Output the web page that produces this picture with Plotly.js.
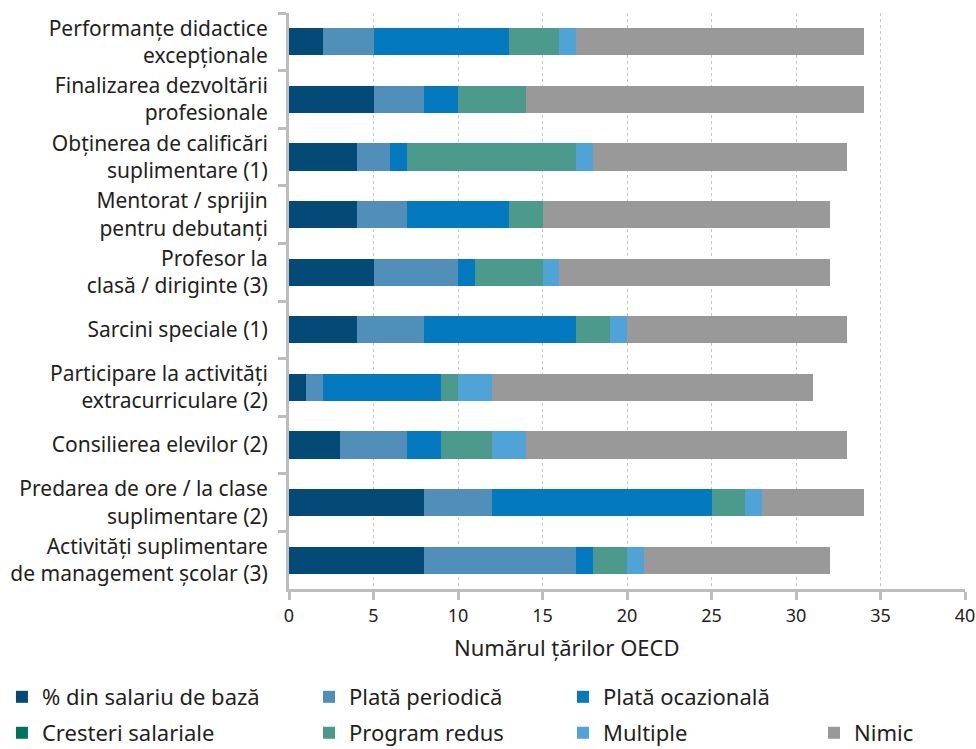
<!DOCTYPE html>
<html>
<head>
<meta charset="utf-8">
<script src="https://cdn.plot.ly/plotly-3.0.1.min.js"></script>
<style>html,body{margin:0;padding:0;background:#fff;}#chart{width:976px;height:749px;}</style>
</head>
<body>
<div id="chart"></div>
<script>
const categories = [
  "Performanțe didactice<br>excepționale",
  "Finalizarea dezvoltării<br>profesionale",
  "Obținerea de calificări<br>suplimentare (1)",
  "Mentorat / sprijin<br>pentru debutanți",
  "Profesor la<br>clasă / diriginte (3)",
  "Sarcini speciale (1)",
  "Participare la activități<br>extracurriculare (2)",
  "Consilierea elevilor (2)",
  "Predarea de ore / la clase<br>suplimentare (2)",
  "Activități suplimentare<br>de management școlar (3)"
];
const seriesNames = ["% din salariu de bază", "Plată periodică", "Plată ocazională", "Cresteri salariale", "Program redus", "Multiple", "Nimic"];
const salariuBaza   = [2, 5, 4, 4, 5, 4, 1, 3, 8, 8];
const plataPeriodica = [3, 3, 2, 3, 5, 4, 1, 4, 4, 9];
const plataOcazionala = [8, 2, 1, 6, 1, 9, 7, 2, 13, 1];
const cresteriSalariale = [0, 0, 0, 0, 0, 0, 0, 0, 0, 0];
const programRedus  = [3, 4, 10, 2, 4, 2, 1, 3, 2, 2];
const multiple      = [1, 0, 1, 0, 1, 1, 2, 2, 1, 1];
const nimic         = [17, 20, 15, 17, 16, 13, 19, 19, 6, 11];
const xTickValues = [0, 5, 10, 15, 20, 25, 30, 35, 40];

const seriesValues = [salariuBaza, plataPeriodica, plataOcazionala, cresteriSalariale, programRedus, multiple, nimic];
const colors = ["#034B76", "#4F8FBA", "#037ABF", "#00735F", "#4C9A8C", "#4FA3D6", "#999999"];
const legendIds = ["legend", "legend2", "legend3", "legend4", "legend5", "legend6", "legend7"];
// legend item positions (container coords)
const legendPos = [
  [0.002, 0.0694], [0.3166, 0.0694], [0.5768, 0.0694],
  [0.002, 0.0214], [0.3166, 0.0214], [0.5768, 0.0214], [0.834, 0.0214]
];

const FONT = "Noto Sans, Open Sans, sans-serif";
const TXT = "#231F20";

const traces = seriesValues.map((vals, i) => ({
  type: "bar",
  orientation: "h",
  name: seriesNames[i],
  x: vals,
  y: categories,
  marker: {color: colors[i], line: {width: 0}},
  legend: legendIds[i],
  showlegend: true,
  hoverinfo: "skip"
}));

const layout = {
  width: 976,
  height: 749,
  margin: {l: 289, r: 11, t: 13, b: 160},
  paper_bgcolor: "#fff",
  plot_bgcolor: "#fff",
  showlegend: true,
  barmode: "stack",
  bargap: 0.53,
  font: {family: FONT, color: TXT, size: 18},
  xaxis: {
    range: [0, 40],
    tickvals: xTickValues,
    ticktext: xTickValues.map(String),
    showgrid: true,
    gridcolor: "#c8c8c8",
    griddash: "dot",
    gridwidth: 1,
    zeroline: false,
    showline: true,
    linecolor: "#bdbdbd",
    linewidth: 3,
    ticks: "outside",
    ticklen: 8,
    tickwidth: 3,
    tickcolor: "#bdbdbd",
    tickfont: {size: 18, color: TXT, family: FONT},
    automargin: false,
    fixedrange: true
  },
  yaxis: {
    autorange: "reversed",
    showgrid: false,
    zeroline: false,
    showline: true,
    linecolor: "#bdbdbd",
    linewidth: 3,
    ticks: "outside",
    tickson: "boundaries",
    ticklen: 8,
    tickwidth: 3,
    tickcolor: "#bdbdbd",
    ticklabelstandoff: 14,
    tickfont: {size: 21, color: TXT, family: FONT},
    automargin: false,
    fixedrange: true
  },
  annotations: [{
    text: "Numărul țărilor OECD",
    xref: "paper", yref: "paper",
    x: 0.411, y: (589 - 647) / 576,
    xanchor: "center", yanchor: "middle",
    showarrow: false,
    font: {size: 22, color: TXT, family: FONT}
  }]
};

legendIds.forEach((id, i) => {
  layout[id] = {
    visible: true,
    xref: "container",
    yref: "container",
    x: legendPos[i][0],
    y: legendPos[i][1],
    xanchor: "left",
    yanchor: "middle",
    orientation: "h",
    bgcolor: "rgba(0,0,0,0)",
    borderwidth: 0,
    font: {size: 22, color: TXT, family: FONT}
  };
});

Plotly.newPlot("chart", traces, layout, {displayModeBar: false, staticPlot: true});
</script>
</body>
</html>
